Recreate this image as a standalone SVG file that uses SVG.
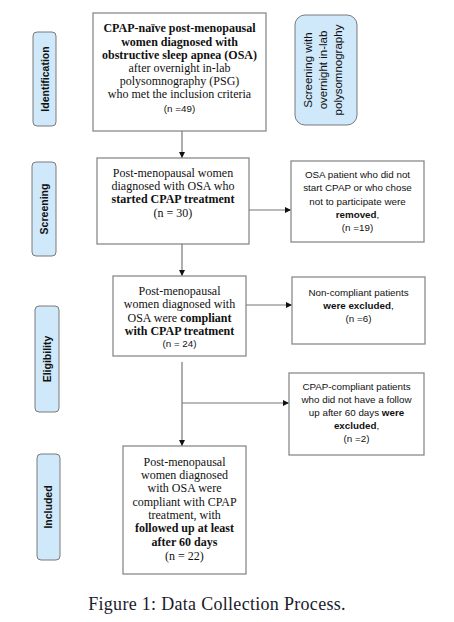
<svg xmlns="http://www.w3.org/2000/svg" width="454" height="622" viewBox="0 0 454 622">
<style>
.box{fill:#fff;stroke:#8a8a8a;stroke-width:1.3}
.pill{fill:#cfe8fa;stroke:#7a7a7a;stroke-width:1}
.ser{font-family:"Liberation Serif",serif;font-size:12px;fill:#111;text-anchor:middle}
.sans{font-family:"Liberation Sans",sans-serif;font-size:9.8px;fill:#111;text-anchor:middle}
.plab{font-family:"Liberation Sans",sans-serif;font-size:10.5px;font-weight:bold;fill:#111;text-anchor:middle}
.plab2{font-family:"Liberation Sans",sans-serif;font-size:11.5px;fill:#111;text-anchor:middle}
.b{font-weight:bold}
.ln{stroke:#777;stroke-width:1.2;fill:none}
.cap{font-family:"Liberation Serif",serif;font-size:18px;letter-spacing:0.3px;fill:#1a1a2a}
</style>
<defs>
<marker id="ah" markerWidth="6" markerHeight="6" refX="5" refY="3" orient="auto" markerUnits="userSpaceOnUse">
<path d="M0,0 L6,3 L0,6 Z" fill="#111"/>
</marker>
</defs>

<g id="pill-identification">
<rect class="pill" x="33" y="32" width="23" height="94" rx="4"/>
<text class="plab" transform="translate(48.5,79) rotate(-90)">Identification</text>
</g>
<g id="pill-screening">
<rect class="pill" x="32" y="162" width="24" height="94" rx="4"/>
<text class="plab" transform="translate(48,209) rotate(-90)">Screening</text>
</g>
<g id="pill-eligibility">
<rect class="pill" x="35" y="306" width="24" height="106" rx="4"/>
<text class="plab" transform="translate(51,359) rotate(-90)">Eligibility</text>
</g>
<g id="pill-included">
<rect class="pill" x="37" y="454" width="23" height="106" rx="4"/>
<text class="plab" transform="translate(52,507) rotate(-90)">Included</text>
</g>
<g id="pill-psg">
<rect class="pill" x="295" y="15" width="62" height="110" rx="10"/>
<text class="plab2" transform="translate(312,70) rotate(-90)">Screening with</text>
<text class="plab2" transform="translate(327,70) rotate(-90)">overnight in-lab</text>
<text class="plab2" transform="translate(342,70) rotate(-90)">polysomnography</text>
</g>

<g id="box1">
<rect class="box" x="93" y="13" width="173" height="118"/>
<text class="ser b" x="179.5" y="32">CPAP-naïve post-menopausal</text>
<text class="ser b" x="179.5" y="46">women diagnosed  with</text>
<text class="ser b" x="179.5" y="59">obstructive sleep apnea (OSA)</text>
<text class="ser" x="179.5" y="72">after overnight in-lab</text>
<text class="ser" x="179.5" y="85">polysomnography (PSG)</text>
<text class="ser" x="179.5" y="98">who met the inclusion criteria</text>
<text class="sans" x="179.5" y="112">(n =49)</text>
</g>

<g id="box2">
<rect class="box" x="97" y="158" width="152" height="86"/>
<text class="ser" x="173" y="177">Post-menopausal women</text>
<text class="ser" x="173" y="190">diagnosed with OSA who</text>
<text class="ser" x="173" y="203"><tspan class="b">started CPAP treatment</tspan></text>
<text class="ser" x="173" y="217">(n = 30)</text>
</g>

<g id="box2r">
<rect class="box" x="291" y="161" width="133" height="81"/>
<text class="sans" x="357.5" y="178">OSA patient who did not</text>
<text class="sans" x="357.5" y="191">start CPAP or who chose</text>
<text class="sans" x="357.5" y="205">not to participate were</text>
<text class="sans b" x="357.5" y="218">removed<tspan font-weight="normal">,</tspan></text>
<text class="sans" x="357.5" y="231">(n =19)</text>
</g>

<g id="box3">
<rect class="box" x="113" y="276" width="133" height="80"/>
<text class="ser" x="179.5" y="295">Post-menopausal</text>
<text class="ser" x="179.5" y="308">women diagnosed with</text>
<text class="ser" x="179.5" y="322">OSA were <tspan class="b">compliant</tspan></text>
<text class="ser b" x="179.5" y="335">with CPAP treatment</text>
<text class="sans" x="179.5" y="347">(n = 24)</text>
</g>

<g id="box3r">
<rect class="box" x="292" y="277" width="133" height="67"/>
<text class="sans" x="358.5" y="296">Non-compliant patients</text>
<text class="sans b" x="358.5" y="309">were excluded<tspan font-weight="normal">,</tspan></text>
<text class="sans" x="358.5" y="322">(n =6)</text>
</g>

<g id="box4r">
<rect class="box" x="289" y="373" width="135" height="82"/>
<text class="sans" x="356.5" y="390">CPAP-compliant patients</text>
<text class="sans" x="356.5" y="403">who did not have a follow</text>
<text class="sans" x="356.5" y="416">up after 60 days <tspan class="b">were</tspan></text>
<text class="sans b" x="356.5" y="429">excluded<tspan font-weight="normal">,</tspan></text>
<text class="sans" x="356.5" y="442">(n =2)</text>
</g>

<g id="box5">
<rect class="box" x="123" y="446" width="123" height="128"/>
<text class="ser" x="184.5" y="466">Post-menopausal</text>
<text class="ser" x="184.5" y="479">women diagnosed</text>
<text class="ser" x="184.5" y="492">with OSA were</text>
<text class="ser" x="184.5" y="506">compliant with CPAP</text>
<text class="ser" x="184.5" y="519">treatment, with</text>
<text class="ser b" x="184.5" y="532">followed up at least</text>
<text class="ser b" x="184.5" y="546">after 60 days</text>
<text class="ser" x="184.5" y="560">(n = 22)</text>
</g>

<g id="connectors">
<line class="ln" x1="182" y1="131" x2="182" y2="157" marker-end="url(#ah)"/>
<line class="ln" x1="249" y1="210" x2="290" y2="210" marker-end="url(#ah)"/>
<line class="ln" x1="182" y1="244" x2="182" y2="275" marker-end="url(#ah)"/>
<line class="ln" x1="246" y1="305" x2="291" y2="305" marker-end="url(#ah)"/>
<line class="ln" x1="182" y1="362" x2="182" y2="445" marker-end="url(#ah)"/>
<line class="ln" x1="182" y1="403" x2="288" y2="403" marker-end="url(#ah)"/>
</g>

<text class="cap" x="217" y="610" text-anchor="middle">Figure 1: Data Collection Process.</text>
</svg>
